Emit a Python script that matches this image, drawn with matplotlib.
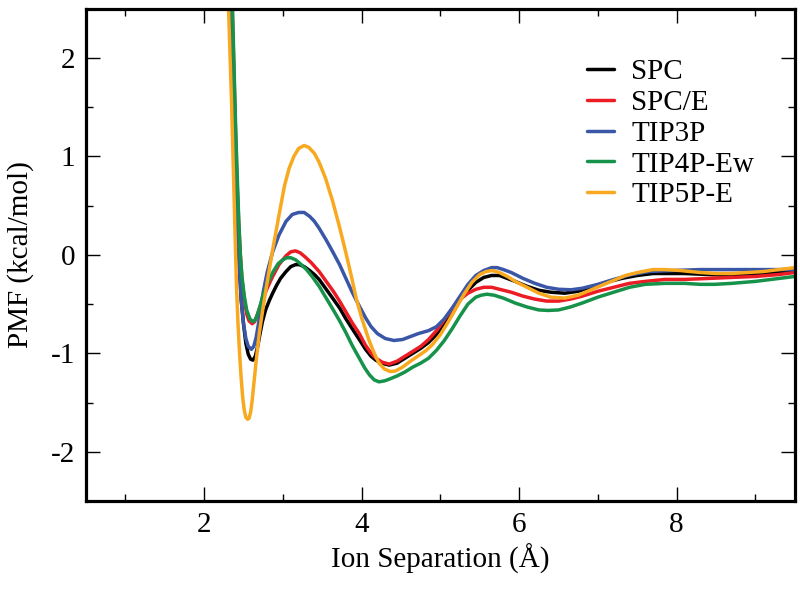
import matplotlib
matplotlib.use('Agg')
import matplotlib.pyplot as plt
from matplotlib.ticker import MultipleLocator

plt.rcParams['font.family'] = ['Liberation Serif', 'DejaVu Serif']
plt.rcParams['font.size'] = 21
plt.rcParams['axes.unicode_minus'] = False

# PMF curves (x in Angstrom, y in kcal/mol)
spc_x = [2.33, 2.35, 2.37, 2.39, 2.41, 2.43, 2.45, 2.47, 2.50, 2.53, 2.56, 2.59, 2.62, 2.65,
         2.68, 2.71, 2.74, 2.78, 2.83, 2.87, 2.92, 2.97, 3.04, 3.10, 3.16, 3.21, 3.27, 3.34,
         3.40, 3.46, 3.55, 3.64, 3.72, 3.80, 3.88, 3.97, 4.05, 4.12, 4.18, 4.25, 4.35, 4.45,
         4.55, 4.65, 4.75, 4.85, 4.95, 5.05, 5.15, 5.25, 5.35, 5.45, 5.55, 5.65, 5.75, 5.85,
         5.95, 6.10, 6.25, 6.40, 6.58, 6.75, 6.90, 7.10, 7.30, 7.50, 7.70, 7.85, 8.10, 8.40,
         8.69, 8.90, 9.20, 9.50]
spc_y = [3.0, 2.4, 1.8, 1.2, 0.7, 0.2, -0.15, -0.45, -0.70, -0.90, -1.01, -1.06, -1.07, -1.03,
         -0.93, -0.80, -0.68, -0.56, -0.46, -0.39, -0.31, -0.24, -0.17, -0.12, -0.10, -0.10, -0.12, -0.16,
         -0.20, -0.25, -0.35, -0.45, -0.54, -0.65, -0.75, -0.86, -0.96, -1.03, -1.07, -1.10, -1.12, -1.10,
         -1.05, -1.00, -0.95, -0.89, -0.81, -0.71, -0.59, -0.46, -0.36, -0.28, -0.23, -0.21, -0.21, -0.24,
         -0.27, -0.32, -0.36, -0.38, -0.39, -0.37, -0.33, -0.28, -0.24, -0.21, -0.19, -0.19, -0.19, -0.20,
         -0.21, -0.20, -0.18, -0.16]

spce_x = [2.34, 2.36, 2.38, 2.40, 2.42, 2.44, 2.46, 2.48, 2.51, 2.54, 2.57, 2.61, 2.64, 2.67,
          2.70, 2.74, 2.80, 2.87, 2.95, 3.04, 3.10, 3.16, 3.22, 3.28, 3.36, 3.46, 3.55, 3.64,
          3.72, 3.80, 3.88, 3.97, 4.05, 4.12, 4.18, 4.26, 4.35, 4.45, 4.55, 4.65, 4.75, 4.85,
          4.95, 5.05, 5.15, 5.25, 5.35, 5.45, 5.55, 5.65, 5.75, 5.90, 6.05, 6.20, 6.35, 6.50,
          6.65, 6.80, 7.00, 7.20, 7.40, 7.60, 7.85, 8.10, 8.40, 8.69, 9.00, 9.30, 9.50]
spce_y = [3.0, 2.4, 1.8, 1.2, 0.7, 0.3, 0.0, -0.25, -0.45, -0.60, -0.67, -0.70, -0.68, -0.62,
          -0.55, -0.46, -0.34, -0.22, -0.10, -0.01, 0.03, 0.04, 0.02, -0.02, -0.08, -0.17, -0.27, -0.37,
          -0.47, -0.58, -0.69, -0.80, -0.92, -1.00, -1.05, -1.09, -1.11, -1.08, -1.03, -0.98, -0.93, -0.86,
          -0.77, -0.66, -0.55, -0.45, -0.39, -0.35, -0.33, -0.33, -0.35, -0.38, -0.42, -0.45, -0.47, -0.47,
          -0.45, -0.42, -0.37, -0.33, -0.29, -0.27, -0.25, -0.25, -0.24, -0.23, -0.22, -0.20, -0.18]

tip3p_x = [2.33, 2.35, 2.37, 2.39, 2.41, 2.43, 2.45, 2.47, 2.50, 2.53, 2.56, 2.60, 2.63, 2.66,
           2.69, 2.72, 2.75, 2.80, 2.87, 2.95, 3.04, 3.12, 3.20, 3.27, 3.34, 3.40, 3.46, 3.55,
           3.64, 3.72, 3.80, 3.88, 3.97, 4.05, 4.12, 4.20, 4.30, 4.41, 4.52, 4.62, 4.72, 4.85,
           4.95, 5.05, 5.15, 5.25, 5.35, 5.45, 5.55, 5.65, 5.72, 5.80, 5.90, 6.05, 6.20, 6.35,
           6.50, 6.66, 6.80, 7.00, 7.20, 7.43, 7.65, 7.93, 8.30, 8.70, 9.10, 9.50]
tip3p_y = [3.0, 2.5, 1.9, 1.3, 0.8, 0.3, -0.15, -0.45, -0.70, -0.85, -0.93, -0.96, -0.93, -0.84,
           -0.70, -0.54, -0.38, -0.18, 0.03, 0.20, 0.34, 0.41, 0.43, 0.43, 0.39, 0.34, 0.27, 0.15,
           0.02, -0.10, -0.24, -0.38, -0.52, -0.64, -0.73, -0.80, -0.85, -0.87, -0.86, -0.83, -0.80, -0.77,
           -0.73, -0.65, -0.54, -0.42, -0.30, -0.21, -0.16, -0.13, -0.13, -0.15, -0.18, -0.24, -0.29, -0.33,
           -0.35, -0.355, -0.34, -0.30, -0.25, -0.20, -0.17, -0.16, -0.15, -0.15, -0.15, -0.15]

tip4pew_x = [2.34, 2.36, 2.38, 2.40, 2.42, 2.44, 2.46, 2.48, 2.51, 2.54, 2.58, 2.62, 2.65, 2.68,
             2.71, 2.74, 2.80, 2.87, 2.94, 3.00, 3.05, 3.10, 3.16, 3.22, 3.30, 3.38, 3.46, 3.55,
             3.64, 3.72, 3.80, 3.88, 3.97, 4.04, 4.10, 4.16, 4.22, 4.29, 4.36, 4.45, 4.55, 4.65,
             4.75, 4.85, 4.95, 5.05, 5.15, 5.25, 5.35, 5.45, 5.52, 5.59, 5.68, 5.80, 5.95, 6.10,
             6.25, 6.37, 6.50, 6.65, 6.80, 7.00, 7.20, 7.40, 7.60, 7.85, 8.10, 8.30, 8.48, 8.70,
             9.00, 9.30, 9.50]
tip4pew_y = [3.0, 2.5, 1.9, 1.3, 0.8, 0.35, 0.0, -0.22, -0.42, -0.56, -0.65, -0.68, -0.66, -0.60,
             -0.52, -0.43, -0.30, -0.18, -0.09, -0.05, -0.03, -0.03, -0.05, -0.09, -0.15, -0.23, -0.32, -0.44,
             -0.56, -0.67, -0.79, -0.92, -1.05, -1.15, -1.22, -1.27, -1.29, -1.28, -1.26, -1.23, -1.19, -1.14,
             -1.10, -1.05, -0.97, -0.87, -0.75, -0.62, -0.50, -0.43, -0.41, -0.40, -0.41, -0.44, -0.49, -0.53,
             -0.56, -0.565, -0.56, -0.53, -0.49, -0.43, -0.38, -0.33, -0.30, -0.29, -0.29, -0.30, -0.30, -0.29,
             -0.27, -0.24, -0.22]

tip5pe_x = [2.29, 2.31, 2.33, 2.35, 2.37, 2.39, 2.41, 2.43, 2.45, 2.47, 2.49, 2.51, 2.53, 2.55,
            2.57, 2.59, 2.61, 2.63, 2.66, 2.70, 2.74, 2.80, 2.87, 2.95, 3.02, 3.08, 3.14, 3.20,
            3.27, 3.33, 3.40, 3.46, 3.54, 3.63, 3.72, 3.80, 3.87, 3.93, 4.00, 4.09, 4.16, 4.22,
            4.29, 4.36, 4.43, 4.52, 4.62, 4.73, 4.82, 4.90, 5.00, 5.10, 5.20, 5.30, 5.40, 5.50,
            5.58, 5.66, 5.75, 5.85, 5.95, 6.10, 6.25, 6.40, 6.58, 6.75, 6.90, 7.05, 7.20, 7.35,
            7.50, 7.70, 7.85, 8.05, 8.30, 8.50, 8.69, 8.90, 9.10, 9.30, 9.50]
tip5pe_y = [3.0, 2.5, 2.0, 1.5, 0.9, 0.3, -0.3, -0.7, -1.0, -1.25, -1.45, -1.58, -1.65, -1.67,
            -1.66, -1.60, -1.48, -1.32, -1.08, -0.80, -0.58, -0.28, 0.05, 0.40, 0.70, 0.88, 1.00, 1.08,
            1.11, 1.09, 1.03, 0.94, 0.78, 0.55, 0.28, 0.02, -0.22, -0.44, -0.64, -0.86, -1.00, -1.10,
            -1.16, -1.185, -1.18, -1.14, -1.08, -1.02, -0.97, -0.91, -0.81, -0.68, -0.54, -0.40, -0.28, -0.20,
            -0.17, -0.16, -0.18, -0.22, -0.27, -0.33, -0.39, -0.43, -0.44, -0.41, -0.36, -0.31, -0.26, -0.21,
            -0.18, -0.15, -0.15, -0.16, -0.18, -0.19, -0.19, -0.18, -0.17, -0.15, -0.13]

series = [
    ('SPC', spc_x, spc_y, 'black'),
    ('SPC/E', spce_x, spce_y, '#ec1c24'),
    ('TIP3P', tip3p_x, tip3p_y, '#3a56a6'),
    ('TIP4P-Ew', tip4pew_x, tip4pew_y, '#17924a'),
    ('TIP5P-E', tip5pe_x, tip5pe_y, '#f8a920'),
]

fig = plt.figure(figsize=(8, 5.89), dpi=100)
ax = fig.add_axes([0.1075, 0.1494, 0.886, 0.836])

for name, xs, ys, col in series:
    ax.plot(xs, ys, color=col, lw=2.5, label=name,
            solid_joinstyle='round', solid_capstyle='round')

ax.set_xlim(0.5, 9.5)
ax.set_ylim(-2.5, 2.5)
ax.xaxis.set_major_locator(MultipleLocator(2))
ax.xaxis.set_minor_locator(MultipleLocator(1))
ax.yaxis.set_major_locator(MultipleLocator(1))
ax.yaxis.set_minor_locator(MultipleLocator(0.5))
ax.tick_params(which='both', direction='in', top=True, right=True, width=1.0, pad=8)
ax.tick_params(which='major', length=10)
ax.tick_params(which='minor', length=5)
for s in ax.spines.values():
    s.set_linewidth(2.3)

ax.set_xlabel('Ion Separation (Å)', labelpad=4)
ax.set_ylabel('PMF (kcal/mol)', labelpad=12)

ax.legend(loc='upper left', bbox_to_anchor=(0.707, 0.898), frameon=False,
          handlelength=0.93, handletextpad=0.59, labelspacing=0.15,
          borderpad=0, borderaxespad=0)

plt.savefig('out.png', dpi=100)
